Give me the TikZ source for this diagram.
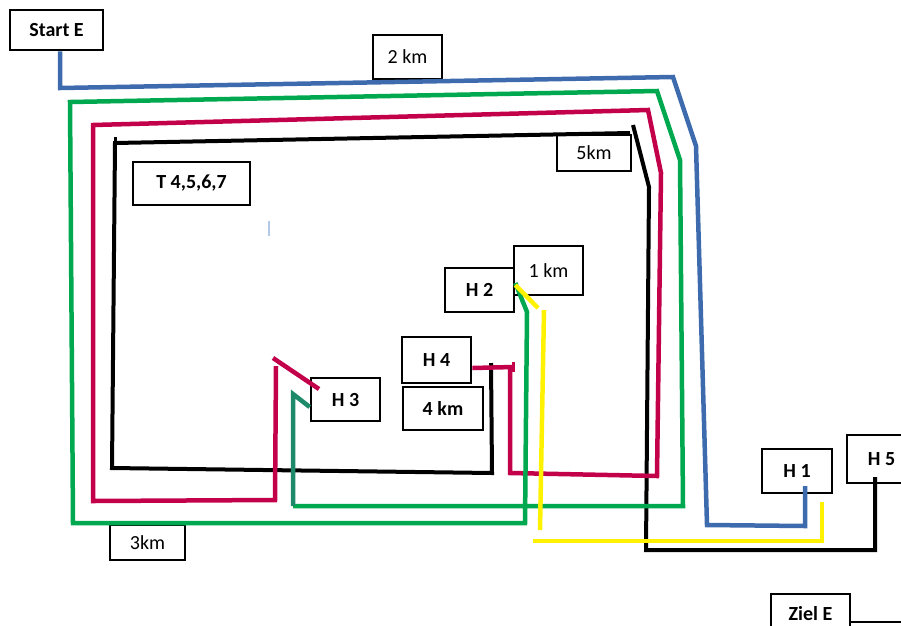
\documentclass[tikz,border=0pt]{standalone}
\usepackage{fontspec}
\setmainfont{Carlito}
\definecolor{rblue}{HTML}{3D6BAE}
\definecolor{rgreen}{HTML}{00A84F}
\definecolor{rteal}{HTML}{1E8A6A}
\definecolor{rred}{HTML}{C3004A}
\definecolor{ryellow}{HTML}{FFF200}
\definecolor{rlight}{HTML}{B4C8E8}
\tikzset{
  box/.style={draw=black, line width=2.6pt, fill=white, inner sep=0pt, font=\fontsize{20}{22}\selectfont},
  boldbox/.style={box, font=\fontsize{20}{22}\selectfont\bfseries},
  route/.style={line width=4.5pt, line join=miter, line cap=butt},
}
\begin{document}
\begin{tikzpicture}[x=1pt, y=-1pt]
\useasboundingbox (0,0) rectangle (901,625);
\clip (0,0) rectangle (901,625);
% boxes
\node[boldbox, minimum width=93pt, minimum height=40pt] (startE) at (56.5,30) {Start E};
\node[box, minimum width=69pt, minimum height=44pt] (km2) at (407.5,57) {2 km};
\node[boldbox, minimum width=117pt, minimum height=43pt] (T) at (191.5,183.5) {T 4,5,6,7};
\node[box, minimum width=74pt, minimum height=36pt] (km5) at (594,153) {5km};
\node[boldbox, minimum width=69pt, minimum height=44pt] (H2) at (479.5,290) {H 2};
\node[box, minimum width=69pt, minimum height=49pt] (km1) at (548.5,270.5) {1 km};
\node[boldbox, minimum width=69pt, minimum height=46pt] (H4) at (436.5,360) {H 4};
\node[boldbox, minimum width=80pt, minimum height=43pt] (km4) at (443,408.5) {4 km};
\node[boldbox, minimum width=69pt, minimum height=43pt] (H3) at (345.5,399.5) {H 3};
\node[box, minimum width=75pt, minimum height=35pt] (km3) at (147.5,542.5) {3km};
\node[boldbox, minimum width=70pt, minimum height=44pt] (H1) at (797,471) {H 1};
\node[boldbox, minimum width=69pt, minimum height=48pt] (H5) at (881.5,459) {H 5};
\node[boldbox, minimum width=79pt, minimum height=40pt] (zielE) at (810.5,614) {Ziel E};
% coordinates
\coordinate (zielOut) at (905,622);
\coordinate (strayA) at (269,221);
\coordinate (strayB) at (269,236);
% Ziel E line
\draw[line width=2.6pt] (zielE.east |- zielOut) -- (zielOut);
% stray mark
\draw[rlight, line width=2.5pt] (strayA) -- (strayB);
% black
\draw[route, black, line width=4pt] (491,363) -- (492,473) -- (112,468) -- (115,143) -- (630,133);
\draw[black, line width=3pt] (115,137) -- (115,146);
\draw[route, black, line width=4pt] (633,125) -- (649,187) -- (646,550) -- (875,550) -- (875,477);
% red
\draw[route, rred] (H4.east |- 0,368) -- (513,367);
\draw[rred, line width=3pt] (513,362) -- (513,372);
\draw[route, rred] (510,367) -- (510,473) -- (657,476) -- (661,173) -- (648,110) -- (93,125) -- (93,501) -- (275,500) -- (276,366);
\draw[route, rred] (273,358) -- (319,389);
% green
\draw[route, rgreen] (H2.east |- 0,283) -- (527,312) -- (525,523) -- (73,523) -- (70,102) -- (657,91) -- (680,160) -- (683,506) -- (293,506);
\draw[route, rteal] (293,506) -- (293,394) -- (H3.west |- 0,407);
% yellow
\draw[route, ryellow] (H2.east |- 0,285) -- (538,308);
\draw[route, ryellow] (544,310) -- (540,530);
\draw[route, ryellow] (533,541) -- (822,541) -- (822,502);
% blue
\draw[route, rblue] (startE.south -| 60,0) -- (60,88) -- (673,77) -- (696,146) -- (707,525) -- (805,526) -- (805,486);
\end{tikzpicture}
\end{document}
